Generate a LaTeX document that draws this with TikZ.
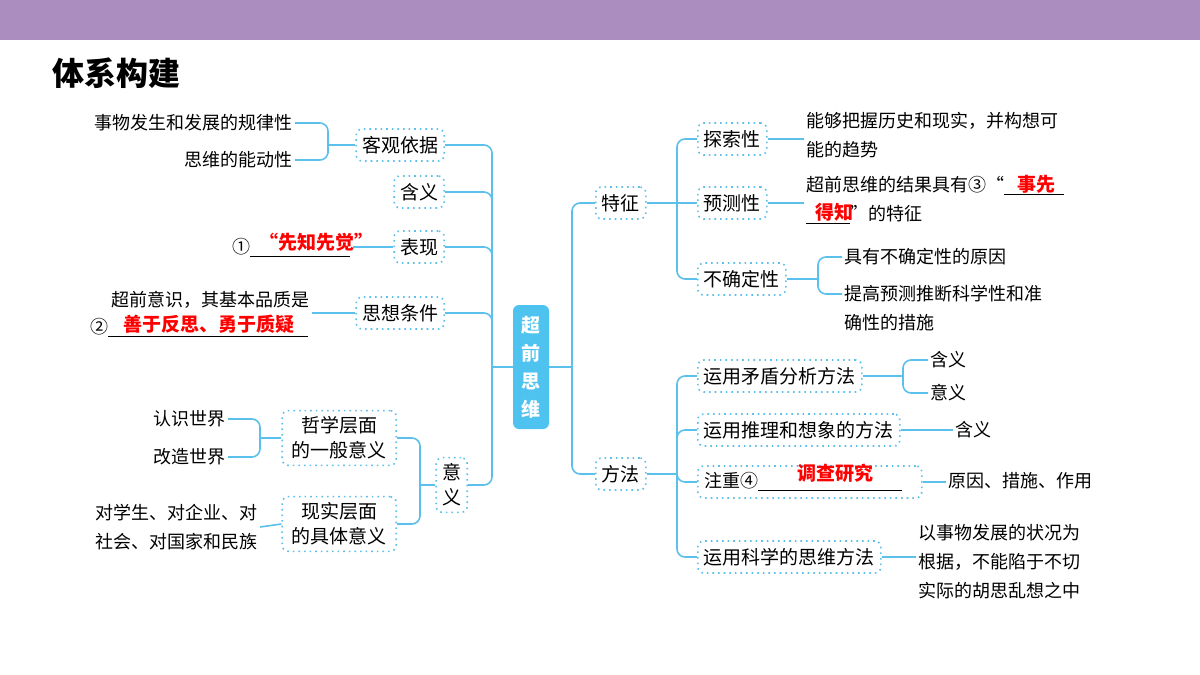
\documentclass[tikz,border=0pt]{standalone}
\usepackage{fontspec}
\setmainfont{Noto Sans CJK SC}
\usetikzlibrary{positioning}
\definecolor{band}{HTML}{AB8DBF}
\definecolor{lnk}{HTML}{5BC0EB}
\definecolor{hub}{HTML}{4FC3F0}
\tikzset{
  box/.style={draw=lnk,dotted,thick,rounded corners=3,inner sep=3pt,minimum height=16,font=\fontsize{9.5}{12.5}\selectfont,align=center},
  txt/.style={inner sep=1pt,font=\fontsize{9}{14.5}\selectfont,align=left},
  link/.style={draw=lnk,thick,rounded corners=4},
  ans/.style={text=red,font=\fontsize{9.5}{11}\selectfont\bfseries}
}
\begin{document}
\begin{tikzpicture}[x=0.5pt,y=-0.5pt]
  \useasboundingbox (0,0) rectangle (1200,675);
  \fill[band] (0,0) rectangle (1200,40);
  \node[anchor=west,inner sep=0,font=\fontsize{16}{16}\selectfont\bfseries] (title) at (52,73) {体系构建};

  % center
  \node[fill=hub,rounded corners=3,text=white,font=\fontsize{9.5}{14}\selectfont\bfseries,minimum width=18,minimum height=62,align=center] (hub) at (531,367) {超\\前\\思\\维};
  \coordinate (ls) at (492,367);
  \coordinate (rs) at (572,367);

  % left side
  \node[box,anchor=east] (kg) at (445,145) {客观依据};
  \node[box,anchor=east] (hy) at (445,192) {含义};
  \node[box,anchor=east] (bx) at (445,247) {表现};
  \node[box,anchor=east] (sx) at (445,313) {思想条件};
  \node[box,anchor=east] (yy) at (468,485) {意\\义};
  \draw[link] (hub.west) -- (ls);
  \foreach \b in {kg,hy,bx,sx,yy} \draw[link] (\b.east) -| (ls);

  \node[txt,anchor=east] (gl) at (295,123) {事物发生和发展的规律性};
  \node[txt,anchor=east] (nd) at (295,160) {思维的能动性};
  \coordinate (kgj) at (328,145);
  \draw[link] (gl.east) -| (kgj) |- (nd.east);
  \draw[link] (kgj) -- (kg.west);

  \node[txt,anchor=west] (c1) at (230,248) {①\underline{\makebox[50pt\relax][l]{}}};
  \node[ans,anchor=west] (xz) at (252,242) {“先知先觉”};
  \draw[link] (bx.west) -- (c1.east |- bx.west);

  \node[txt,anchor=east] (cq) at (312,300) {超前意识，其基本品质是};
  \node[txt,anchor=west] (c2) at (88,328) {②\underline{\makebox[100pt\relax][l]{}}};
  \node[ans,anchor=west] (sy) at (116,324) {善于反思、勇于质疑};
  \draw[link] (sx.west) -- (cq.east |- sx.west);

  \node[box,anchor=east,minimum width=57] (zx) at (397,438) {哲学层面\\的一般意义};
  \node[box,anchor=east,minimum width=57] (xs) at (397,524) {现实层面\\的具体意义};
  \coordinate (yyj) at (420,485);
  \draw[link] (zx.east) -| (yyj) |- (xs.east);
  \draw[link] (yyj) -- (yy.west);
  \node[txt,anchor=east] (rs1) at (228,419) {认识世界};
  \node[txt,anchor=east] (gz) at (228,457) {改造世界};
  \coordinate (zxj) at (260,438);
  \draw[link] (rs1.east) -| (zxj) |- (gz.east);
  \draw[link] (zxj) -- (zx.west);
  \node[txt,anchor=east] (dx) at (260,527) {对学生、对企业、对\\社会、对国家和民族};
  \draw[link] (dx.east) -- (xs.west);

  % right side
  \node[box,anchor=west] (tz) at (595,203) {特征};
  \node[box,anchor=west] (ff) at (595,474) {方法};
  \draw[link] (hub.east) -- (rs);
  \foreach \b in {tz,ff} \draw[link] (\b.west) -| (rs);

  \node[box,anchor=west] (ts) at (697,139) {探索性};
  \node[box,anchor=west] (yc) at (697,203) {预测性};
  \node[box,anchor=west] (bq) at (697,279) {不确定性};
  \coordinate (tzj) at (677,203);
  \draw[link] (ts.west) -| (tzj) |- (bq.west);
  \draw[link] (yc.west) -- (tz.east);
  \node[txt,anchor=west] (ts1) at (804,135) {能够把握历史和现实，并构想可\\能的趋势};
  \draw[link] (ts.east) -- (ts1.west |- ts.east);
  \node[txt,anchor=west] (yc1) at (804,200) {超前思维的结果具有③“\underline{\makebox[30pt\relax][l]{}}\\\underline{\makebox[22pt\relax][l]{}}”的特征};
  \node[ans,anchor=west] (ys1) at (1010,184) {事先};
  \node[ans,anchor=west] (ys2) at (808,212) {得知};
  \draw[link] (yc.east) -- (yc1.west |- yc.east);
  \node[txt,anchor=west] (bq1) at (842,257) {具有不确定性的原因};
  \node[txt,anchor=west] (bq2) at (842,308) {提高预测推断科学性和准\\确性的措施};
  \coordinate (bqj) at (818,279);
  \draw[link] (bq1.west) -| (bqj) |- (bq2.west |- 0,294);
  \draw[link] (bqj) -- (bq.east);

  \node[box,anchor=west] (md) at (697,376) {运用矛盾分析方法};
  \node[box,anchor=west] (tl) at (697,430) {运用推理和想象的方法};
  \node[box,anchor=west,minimum width=112,minimum height=16] (zz) at (697,482) {\phantom{注}};
  \node[txt,anchor=west] (zz1) at (702,482) {注重④\underline{\makebox[72pt\relax][l]{}}};
  \node[ans,anchor=west] (dc) at (790,473) {调查研究};
  \node[box,anchor=west] (kx) at (697,557) {运用科学的思维方法};
  \coordinate (ffj) at (677,474);
  \draw[link] (md.west) -| (ffj) |- (kx.west);
  \draw[link] (tl.west) -| (ffj);
  \draw[link] (zz.west) -| (ffj);
  \draw[link] (ffj) -- (ff.east);

  \node[txt,anchor=west] (md1) at (928,360) {含义};
  \node[txt,anchor=west] (md2) at (928,393) {意义};
  \coordinate (mdj) at (903,376);
  \draw[link] (md1.west) -| (mdj) |- (md2.west);
  \draw[link] (mdj) -- (md.east);
  \node[txt,anchor=west] (tl1) at (953,430) {含义};
  \draw[link] (tl.east) -- (tl1.west);
  \node[txt,anchor=west] (zz2) at (946,481) {原因、措施、作用};
  \draw[link] (zz.east) -- (zz2.west |- zz.east);
  \node[txt,anchor=west] (kx1) at (916,562) {以事物发展的状况为\\根据，不能陷于不切\\实际的胡思乱想之中};
  \draw[link] (kx.east) -- (kx1.west |- kx.east);
\end{tikzpicture}
\end{document}
